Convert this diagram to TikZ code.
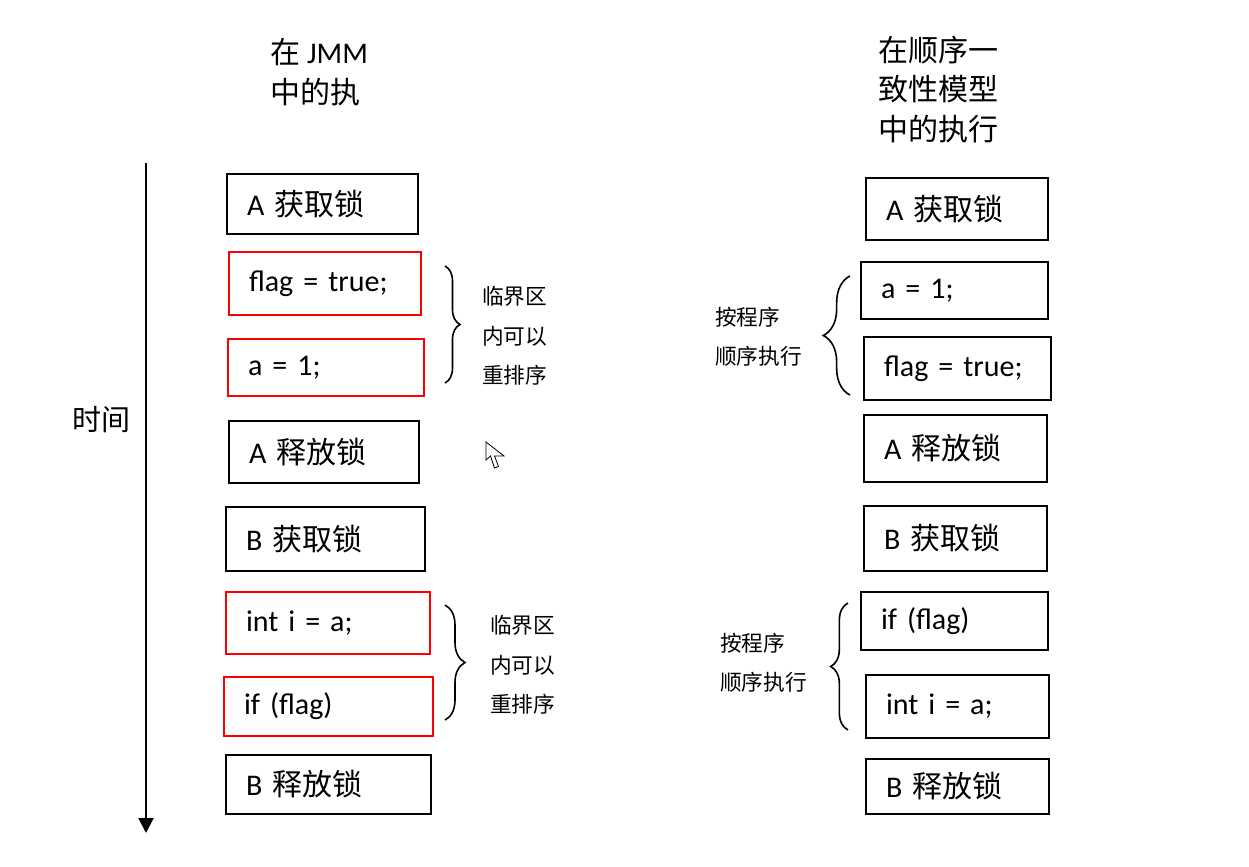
\documentclass[tikz,border=0pt]{standalone}
\usepackage{fontspec}
\setmainfont{Carlito}
\newfontfamily\cjk{Noto Sans CJK SC}
\usetikzlibrary{arrows.meta,decorations.pathreplacing}
\definecolor{boxred}{RGB}{255,0,0}
\newcommand\bxfont{\fontsize{22.5pt}{27pt}\selectfont}
\newcommand\ntfont{\fontsize{16.25pt}{29.6pt}\selectfont\cjk}
\newcommand\ttlfont{\fontsize{22.5pt}{29.8pt}\selectfont}
\begin{document}
\begin{tikzpicture}[x=0.75pt,y=-0.75pt,
  box/.style={draw=black,line width=1.9pt,inner xsep=15pt,inner ysep=0pt,align=left,font=\bxfont},
  redbox/.style={box,draw=boxred,line width=1.7pt},
  note/.style={align=left,anchor=west,inner sep=0pt,font=\ntfont},
  title/.style={align=left,anchor=west,inner sep=0pt,font=\ttlfont},
  bracestyle/.style={draw=black,line width=1.2pt,decorate,decoration={brace,amplitude=#1}},
  timeline/.style={draw=black,line width=1.6pt,-{Triangle[width=11.25pt,length=11.25pt]}}]
\useasboundingbox (0,0) rectangle (1249,867);

% titles
\node[title] (tl) at (270,72.5) {{\cjk 在} JMM\\{\cjk 中的执}};
\node[title] (tr) at (878,89.5) {\cjk 在顺序一\\\cjk 致性模型\\\cjk 中的执行};

% time axis
\coordinate (ttop) at (146,163);
\coordinate (tbot) at (146,833);
\draw[timeline] (ttop) -- (tbot);
\node[title,font=\fontsize{21.75pt}{26pt}\selectfont\cjk] (time) at (72,420) {时间};

% left column
\node[box,    text width=113.25pt, minimum height=45pt]    (L1) at (322.5,204)   {A {\cjk 获取锁}};
\node[redbox, text width=114pt,    minimum height=47.25pt] (L2) at (325,283.5)   {flag = true;};
\node[redbox, text width=117pt,    minimum height=42.75pt] (L3) at (326,367.5)   {a = 1;};
\node[box,    text width=112.5pt,  minimum height=46.5pt]  (L4) at (324,452)     {A {\cjk 释放锁}};
\node[box,    text width=119.25pt, minimum height=48pt]    (L5) at (325.5,539)   {B {\cjk 获取锁}};
\node[redbox, text width=123pt,    minimum height=46.5pt]  (L6) at (328,623)     {int i = a;};
\node[redbox, text width=126.75pt, minimum height=44.25pt] (L7) at (328.5,706.5) {if (flag)};
\node[box,    text width=123.75pt, minimum height=44.25pt] (L8) at (328.5,784.5) {B {\cjk 释放锁}};

% left braces and notes
\coordinate (lb1t) at (445,266); \coordinate (lb1b) at (445,383);
\draw[bracestyle=11.25pt] (lb1t) -- (lb1b);
\node[note] (ln1) at (482,336) {临界区\\内可以\\重排序};
\coordinate (lb2t) at (445,605); \coordinate (lb2b) at (445,720);
\draw[bracestyle=15pt] (lb2t) -- (lb2b);
\node[note] (ln2) at (490,665) {临界区\\内可以\\重排序};

% right column
\node[box, text width=106.5pt,  minimum height=46.5pt]  (R1) at (957,209)     {A {\cjk 获取锁}};
\node[box, text width=110.25pt, minimum height=42.75pt] (R2) at (954.5,290.5) {a = 1;};
\node[box, text width=110.25pt, minimum height=47.25pt] (R3) at (957.5,368.5) {flag = true;};
\node[box, text width=107.25pt, minimum height=50.25pt] (R4) at (955.5,448.5) {A {\cjk 释放锁}};
\node[box, text width=107.25pt, minimum height=48.75pt] (R5) at (955.5,538.5) {B {\cjk 获取锁}};
\node[box, text width=110.25pt, minimum height=43.5pt]  (R6) at (954.5,621)   {if (flag)};
\node[box, text width=107.25pt, minimum height=47.25pt] (R7) at (957.5,706.5) {int i = a;};
\node[box, text width=107.25pt, minimum height=41.25pt] (R8) at (957.5,786.5) {B {\cjk 释放锁}};

% right braces and notes
\coordinate (rb1t) at (850,276); \coordinate (rb1b) at (850,395);
\draw[bracestyle=20pt] (rb1b) -- (rb1t);
\node[note] (rn1) at (715,337) {按程序\\顺序执行};
\coordinate (rb2t) at (848,603); \coordinate (rb2b) at (848,730);
\draw[bracestyle=13pt] (rb2b) -- (rb2t);
\node[note] (rn2) at (720,663) {按程序\\顺序执行};

% mouse cursor
\draw[line width=0.6pt,fill=white,line join=miter]
  (486,442) -- ++(0,18) -- ++(4.5,-4) -- ++(4,12) -- ++(4,-1.5) -- ++(-4,-10.5) -- ++(9.5,0) -- cycle;
\end{tikzpicture}
\end{document}
